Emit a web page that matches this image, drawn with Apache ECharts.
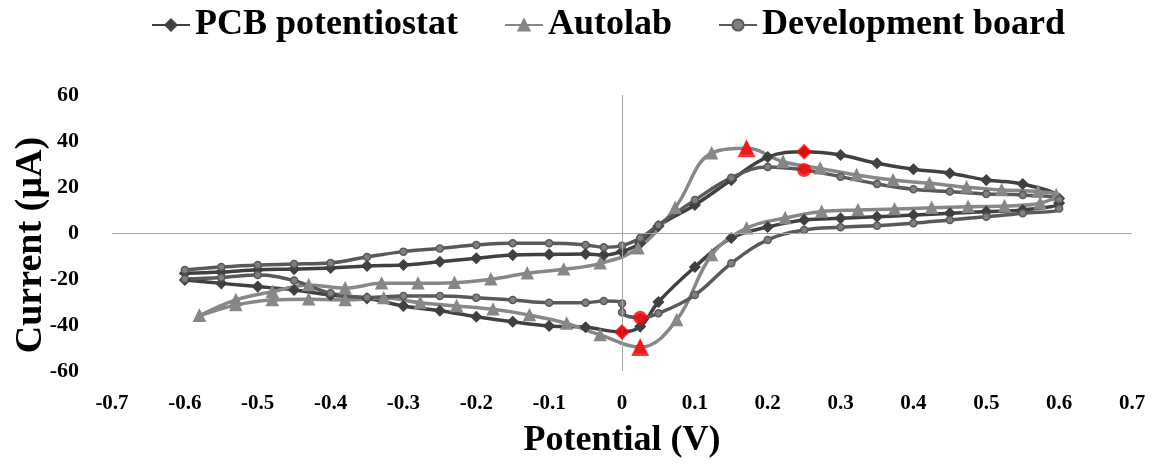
<!DOCTYPE html>
<html>
<head>
<meta charset="utf-8">
<title>CV comparison</title>
<script src="https://cdn.jsdelivr.net/npm/echarts@6/dist/echarts.min.js"></script>
<style>
  html, body { margin: 0; padding: 0; background: #fff; }
  #main { width: 1153px; height: 464px; }
</style>
</head>
<body>
<div id="main"></div>
<script>
// potential (V) and current (uA), forward sweep then reverse sweep
var pcbV = [-0.6, -0.55, -0.5, -0.45, -0.4, -0.35, -0.3, -0.25, -0.2, -0.15, -0.1, -0.05, -0.025, 0, 0.025, 0.05, 0.1, 0.15, 0.2, 0.25, 0.3, 0.35, 0.4, 0.45, 0.5, 0.55, 0.6,
    0.6, 0.55, 0.5, 0.45, 0.4, 0.35, 0.3, 0.25, 0.2, 0.15, 0.1, 0.05, 0.025, 0, -0.05, -0.1, -0.15, -0.2, -0.25, -0.3, -0.35, -0.4, -0.45, -0.5, -0.55, -0.6];
var pcbI = [-17.5, -17, -16, -15.7, -15.2, -14.3, -13.9, -12.5, -11, -9.6, -9.3, -9.1, -9.6, -8, -4.5, 3, 12.2, 23, 33, 35.3, 33.9, 30.3, 27.7, 26, 23, 21.3, 15,
    13, 10, 9.3, 8.6, 7.8, 7.1, 6.4, 5.7, 2.6, -2.2, -14.8, -30, -40.7, -43, -41, -40.4, -38.6, -36.4, -33.8, -31.7, -28.4, -27, -24.8, -23.3, -21.9, -20.4];

var autolabV = [-0.58, -0.53, -0.48, -0.43, -0.38, -0.33, -0.28, -0.23, -0.18, -0.13, -0.08, -0.03, 0.022, 0.073, 0.123, 0.171, 0.221, 0.272, 0.322, 0.372, 0.422, 0.473, 0.521, 0.571, 0.596,
    0.574, 0.525, 0.475, 0.425, 0.374, 0.324, 0.274, 0.224, 0.171, 0.123, 0.075, 0.025, -0.03, -0.076, -0.127, -0.177, -0.227, -0.277, -0.327, -0.38, -0.43, -0.48, -0.53, -0.58];
var autolabI = [-36, -29.1, -25.5, -22.6, -24, -21.9, -21.9, -21.6, -20.1, -17.5, -15.8, -13.2, -6.6, 11, 34.7, 36.8, 31, 28.1, 25.2, 23, 21.6, 19.9, 18.7, 18, 16.5,
    12.9, 11.7, 11.4, 11, 10.4, 10, 9.3, 6.5, 2.1, -9.6, -37.8, -49.6, -44.3, -39.3, -35.7, -33.2, -31.7, -30.3, -28.3, -29.1, -28.8, -29.1, -31.3, -36];

var devV = [-0.6, -0.55, -0.5, -0.45, -0.4, -0.35, -0.3, -0.25, -0.2, -0.15, -0.1, -0.05, -0.025, 0, 0.025, 0.05, 0.1, 0.15, 0.2, 0.25, 0.3, 0.35, 0.4, 0.45, 0.5, 0.55, 0.6,
    0.6, 0.55, 0.5, 0.45, 0.4, 0.35, 0.3, 0.25, 0.2, 0.15, 0.1, 0.05, 0.025, 0, 0, -0.025, -0.05, -0.1, -0.15, -0.2, -0.25, -0.3, -0.35, -0.4, -0.45, -0.5, -0.55, -0.6];
var devI = [-16.1, -14.8, -13.9, -13.5, -13, -10.4, -8.1, -6.7, -5.2, -4.5, -4.5, -5.2, -6.2, -5.5, -2.2, 3.5, 14.3, 24, 28.7, 27.4, 24.5, 21.3, 19, 18, 17, 16.5, 14.6,
    10.7, 8.6, 7.1, 5.7, 4.2, 3.2, 2.5, 1.3, -3, -13.2, -27, -34.9, -36.8, -34.5, -30.6, -29.6, -30.3, -30.3, -29.1, -28.1, -27.4, -27.4, -28, -26.2, -20.7, -18.3, -19.3, -20];

// oxidation / reduction peaks marked in red
var pcbPeaks = [[0.25, 35.3], [0, -43]];
var autolabPeaks = [[0.171, 36.8], [0.025, -49.6]];
var devPeaks = [[0.25, 27.4], [0.025, -36.8]];

var seriesNames = ['PCB potentiostat', 'Autolab', 'Development board'];

(function() {
    'use strict';

    var chart = echarts.init(document.getElementById('main'));
    var font = 'Liberation Serif, Times New Roman, serif';

    function pairs(xs, ys) {
        var out = [];
        for (var i = 0; i < xs.length; i++) {
            out.push([xs[i], ys[i]]);
        }
        return out;
    }

    function cvLine(name, xs, ys, color, fill, symbol, size) {
        return {
            name: name,
            type: 'line',
            data: pairs(xs, ys),
            smooth: 0.4,
            symbol: symbol,
            symbolSize: size,
            showSymbol: true,
            z: 3,
            lineStyle: { color: color, width: 3.5 },
            itemStyle: { color: fill, borderColor: color, borderWidth: 1.5 },
            emphasis: { disabled: true }
        };
    }

    function peaks(data, symbol, size) {
        return {
            type: 'scatter',
            data: data,
            symbol: symbol,
            symbolSize: size,
            z: 5,
            itemStyle: { color: '#ff0000' },
            emphasis: { disabled: true }
        };
    }

    var option = {
        backgroundColor: '#ffffff',
        animation: false,
        legend: {
            data: seriesNames,
            left: 146,
            top: 2,
            itemWidth: 38,
            itemHeight: 14,
            itemGap: 46,
            textStyle: { fontFamily: font, fontWeight: 'bold', fontSize: 36, color: '#000' }
        },
        grid: { left: 112, right: 21, top: 95, bottom: 93, outerBoundsMode: 'none' },
        xAxis: {
            type: 'value',
            min: -0.7,
            max: 0.7,
            interval: 0.1,
            name: 'Potential (V)',
            nameLocation: 'middle',
            nameGap: 52,
            nameTextStyle: { fontFamily: font, fontWeight: 'bold', fontSize: 36, color: '#000' },
            axisLine: { show: false },
            axisTick: { show: false },
            splitLine: { show: false },
            axisLabel: { fontFamily: font, fontWeight: 'bold', fontSize: 21, color: '#000', margin: 22 }
        },
        yAxis: {
            type: 'value',
            min: -60,
            max: 60,
            interval: 20,
            name: 'Current (µA)',
            nameLocation: 'middle',
            nameGap: 62,
            nameMoveOverlap: false,
            nameTextStyle: { fontFamily: font, fontWeight: 'bold', fontSize: 38, color: '#000', padding: [0, 24, 0, 0] },
            axisLine: { show: false },
            axisTick: { show: false },
            splitLine: { show: false },
            axisLabel: { fontFamily: font, fontWeight: 'bold', fontSize: 22, color: '#000', margin: 33 }
        },
        series: [
            {
                name: 'axes',
                type: 'line',
                data: [],
                z: 1,
                markLine: {
                    silent: true,
                    symbol: ['none', 'none'],
                    label: { show: false },
                    lineStyle: { color: '#a6a6a6', width: 1, type: 'solid' },
                    data: [{ xAxis: 0 }, { yAxis: 0 }]
                }
            },
            cvLine(seriesNames[0], pcbV, pcbI, '#404040', '#404040', 'diamond', 10),
            cvLine(seriesNames[1], autolabV, autolabI, '#878787', '#878787', 'triangle', 11),
            cvLine(seriesNames[2], devV, devI, '#595959', '#808080', 'circle', 7),
            peaks(pcbPeaks, 'diamond', 16),
            peaks(autolabPeaks, 'triangle', 18),
            peaks(devPeaks, 'circle', 14)
        ]
    };

    chart.setOption(option);
})();
</script>
</body>
</html>
